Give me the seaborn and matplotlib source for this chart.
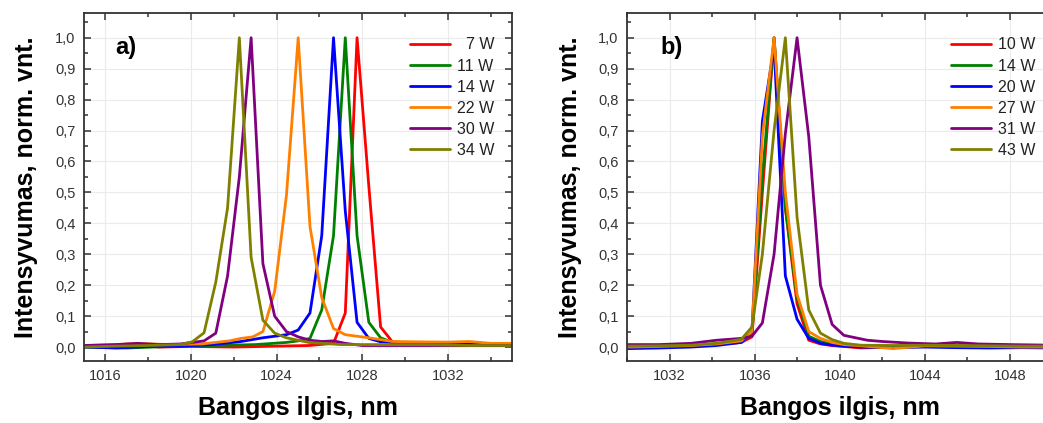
import numpy as np
import pandas as pd
import seaborn as sns
import matplotlib.pyplot as plt
from matplotlib.ticker import MultipleLocator, FuncFormatter

# ---- panel a) data ----
a_labels = ["  7 W", "11 W", "14 W", "22 W", "30 W", "34 W"]

a_x_7 = [1015.0, 1016.5, 1017.5, 1018.5, 1020.0, 1022.0, 1024.0, 1025.5, 1026.66, 1027.21,
         1027.76, 1028.31, 1028.86, 1029.41, 1030.5, 1032.0, 1033.5, 1035.0]
a_y_7 = [0.005, 0.003, 0.008, 0.0, 0.002, 0.0, 0.003, 0.005, 0.012, 0.11,
         1.0, 0.52, 0.065, 0.017, 0.012, 0.01, 0.008, 0.008]

a_x_11 = [1015.0, 1017.0, 1019.0, 1021.0, 1023.0, 1024.46, 1025.01, 1025.56, 1026.11, 1026.66,
          1027.21, 1027.76, 1028.31, 1028.86, 1029.41, 1031.0, 1033.0, 1035.0]
a_y_11 = [0.0, -0.003, 0.002, 0.005, 0.008, 0.015, 0.02, 0.028, 0.12, 0.36,
          1.0, 0.36, 0.08, 0.03, 0.015, 0.008, 0.005, 0.005]

a_x_14 = [1015.0, 1016.5, 1018.0, 1019.5, 1021.0, 1022.34, 1023.36, 1024.46, 1025.01, 1025.56,
          1026.11, 1026.66, 1027.21, 1027.76, 1028.31, 1028.86, 1030.0, 1031.5, 1033.0, 1034.0, 1035.0]
a_y_14 = [0.0, -0.003, 0.002, 0.003, 0.008, 0.018, 0.03, 0.04, 0.055, 0.11,
          0.36, 1.0, 0.44, 0.08, 0.028, 0.017, 0.012, 0.012, 0.01, 0.006, 0.005]

a_x_22 = [1015.0, 1016.5, 1017.5, 1019.0, 1020.5, 1021.8, 1022.34, 1022.89, 1023.36, 1023.91,
          1024.46, 1025.01, 1025.56, 1026.11, 1026.66, 1027.21, 1027.76, 1028.31, 1029.41, 1030.5,
          1032.0, 1033.0, 1034.0, 1035.0]
a_y_22 = [0.005, 0.008, 0.012, 0.008, 0.01, 0.02, 0.028, 0.033, 0.05, 0.18,
          0.49, 1.0, 0.39, 0.16, 0.06, 0.04, 0.035, 0.03, 0.018, 0.017,
          0.016, 0.018, 0.012, 0.012]

a_x_30 = [1015.0, 1016.5, 1017.5, 1018.5, 1019.5, 1020.06, 1020.61, 1021.16, 1021.71, 1022.26,
          1022.81, 1023.36, 1023.91, 1024.46, 1025.01, 1025.56, 1026.11, 1026.66, 1027.21, 1028.0,
          1029.5, 1031.0, 1033.0, 1035.0]
a_y_30 = [0.005, 0.008, 0.012, 0.008, 0.01, 0.015, 0.02, 0.045, 0.23, 0.55,
          1.0, 0.27, 0.10, 0.05, 0.033, 0.022, 0.018, 0.02, 0.012, 0.005,
          0.005, 0.005, 0.005, 0.005]

a_x_34 = [1015.0, 1016.5, 1018.0, 1019.5, 1020.06, 1020.61, 1021.16, 1021.71, 1022.26, 1022.81,
          1023.36, 1023.91, 1024.46, 1025.5, 1027.0, 1029.0, 1031.0, 1033.0, 1035.0]
a_y_34 = [0.0, 0.003, 0.005, 0.008, 0.017, 0.046, 0.21, 0.45, 1.0, 0.29,
          0.087, 0.045, 0.03, 0.015, 0.008, 0.008, 0.008, 0.005, 0.005]

# ---- panel b) data ----
b_labels = ["10 W", "14 W", "20 W", "27 W", "31 W", "43 W"]

b_x = [1030.0, 1031.5, 1033.0, 1034.2, 1035.37, 1035.87, 1036.36, 1036.91, 1037.44, 1037.99,
       1038.54, 1039.09, 1039.64, 1040.19, 1041.0, 1042.5, 1044.0, 1045.5, 1047.0, 1048.5, 1050.0]
b_y_10 = [0.0, 0.002, 0.004, 0.008, 0.015, 0.033, 0.5, 1.0, 0.45, 0.14,
          0.022, 0.01, 0.005, 0.002, -0.003, 0.0, 0.002, 0.004, 0.002, 0.0, 0.0]
b_y_14 = [0.0, 0.003, 0.005, 0.01, 0.018, 0.04, 0.55, 1.0, 0.45, 0.16,
          0.035, 0.018, 0.01, 0.006, 0.004, 0.003, 0.004, 0.004, 0.003, 0.002, 0.002]
b_y_20 = [-0.005, -0.003, 0.0, 0.005, 0.015, 0.05, 0.73, 0.97, 0.23, 0.09,
          0.028, 0.012, 0.006, 0.003, 0.0, -0.002, 0.0, -0.002, -0.003, -0.002, -0.003]
b_y_27 = [0.0, 0.002, 0.005, 0.01, 0.02, 0.05, 0.68, 1.0, 0.5, 0.17,
          0.05, 0.028, 0.015, 0.008, 0.004, -0.005, 0.004, 0.003, 0.002, 0.0, 0.0]
b_y_43 = [0.003, 0.004, 0.006, 0.012, 0.025, 0.065, 0.3, 0.7, 1.0, 0.42,
          0.12, 0.045, 0.024, 0.012, 0.006, 0.005, 0.006, 0.005, 0.004, 0.003, 0.003]

b_x_31 = [1030.0, 1031.5, 1033.0, 1034.2, 1035.37, 1035.87, 1036.36, 1036.91, 1037.44, 1037.99,
          1038.54, 1039.09, 1039.64, 1040.19, 1040.74, 1041.3, 1042.0, 1043.2, 1044.5, 1045.5,
          1046.5, 1048.0, 1050.0]
b_y_31 = [0.008, 0.008, 0.012, 0.022, 0.028, 0.035, 0.078, 0.3, 0.69, 1.0,
          0.68, 0.2, 0.073, 0.038, 0.03, 0.022, 0.018, 0.013, 0.01, 0.015,
          0.01, 0.008, 0.006]

colors = ["#ff0000", "#008000", "#0000ff", "#ff8000", "#800080", "#808000"]


def to_frame(xs, ys, labels):
    parts = []
    for x, y, lab in zip(xs, ys, labels):
        parts.append(pd.DataFrame({"wl": x, "val": y, "series": lab}))
    return pd.concat(parts, ignore_index=True)


df_a = to_frame([a_x_7, a_x_11, a_x_14, a_x_22, a_x_30, a_x_34],
                [a_y_7, a_y_11, a_y_14, a_y_22, a_y_30, a_y_34], a_labels)
df_b = to_frame([b_x, b_x, b_x, b_x, b_x_31, b_x],
                [b_y_10, b_y_14, b_y_20, b_y_27, b_y_31, b_y_43], b_labels)

sns.set_theme(style="ticks")
plt.rcParams["font.family"] = ["Liberation Sans", "DejaVu Sans"]

fig = plt.figure(figsize=(10.43, 4.23), dpi=100)
ax_a = fig.add_axes([0.0805, 0.1466, 0.4104, 0.8227])
ax_b = fig.add_axes([0.6012, 0.1466, 0.4080, 0.8227])

comma = FuncFormatter(lambda v, p: f"{v:.1f}".replace(".", ","))

for ax, df, labels, xlim, tag, tag_x in [
    (ax_a, df_a, a_labels, (1015, 1035), "a)", 0.072),
    (ax_b, df_b, b_labels, (1030, 1050), "b)", 0.078),
]:
    sns.lineplot(data=df, x="wl", y="val", hue="series", hue_order=labels,
                 palette=colors, sort=False, estimator=None, linewidth=2.0, ax=ax)
    ax.set_xlim(*xlim)
    ax.set_ylim(-0.045, 1.08)
    ax.xaxis.set_major_locator(MultipleLocator(4))
    ax.xaxis.set_minor_locator(MultipleLocator(2))
    ax.yaxis.set_major_locator(MultipleLocator(0.1))
    ax.yaxis.set_minor_locator(MultipleLocator(0.05))
    ax.yaxis.set_major_formatter(comma)
    ax.grid(True, which="major", color="#ebebeb", linewidth=0.8)
    ax.tick_params(which="both", direction="in", top=True, right=True,
                   colors="#333333", labelsize=10.5, width=1.1)
    ax.tick_params(which="major", length=5, pad=6)
    ax.tick_params(which="minor", length=3)
    for s in ax.spines.values():
        s.set_color("#333333")
        s.set_linewidth(1.3)
    ax.set_xlabel("Bangos ilgis, nm", fontsize=18, fontweight="bold", color="black")
    ax.set_ylabel("Intensyvumas, norm. vnt.", fontsize=18, fontweight="bold", color="black")
    ax.xaxis.set_label_coords(0.5, -0.1)
    ax.yaxis.set_label_coords(-0.107, 0.5)
    ax.text(tag_x, 0.9, tag, transform=ax.transAxes, fontsize=17,
            fontweight="bold", va="center", ha="left", color="black")
    h, l = ax.get_legend_handles_labels()
    ax.legend(h, l, loc="upper right", bbox_to_anchor=(0.975, 0.948), frameon=False,
              fontsize=11.5, handlelength=2.5, handletextpad=0.45, labelspacing=0.38,
              borderaxespad=0, labelcolor="#222222")

fig.savefig("out.png", dpi=100)
